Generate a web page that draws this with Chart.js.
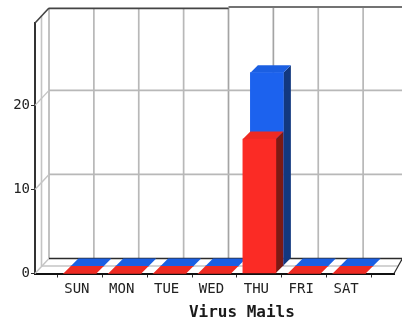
<!DOCTYPE html>
<html><head><meta charset="utf-8">
<style>html,body{margin:0;padding:0;background:#fff}#w{width:402px;height:327px}</style>
<script src="https://cdn.jsdelivr.net/npm/chart.js@4"></script>
</head><body><div id="w"><canvas id="c" width="402" height="327"></canvas></div>
<script>
const categories = ["", "SUN", "MON", "TUE", "WED", "THU", "FRI", "SAT", ""];
const redValues  = [null, 0, 0, 0, 0, 16, 0, 0, null];
const blueValues = [null, 0, 0, 0, 0, 23, 0, 0, null];
const axisTitle = "Virus Mails";

const WALL_DX = 14, WALL_DY = 15, BAR_D = 7.5;
const GRID = "#b8b8b8", DARK = "#2b2b2b", MID = "#c4c4c4";

function line(ctx, x1, y1, x2, y2, color, w) {
  ctx.strokeStyle = color; ctx.lineWidth = w;
  ctx.beginPath(); ctx.moveTo(x1, y1); ctx.lineTo(x2, y2); ctx.stroke();
}
function poly(ctx, pts, color) {
  ctx.fillStyle = color; ctx.beginPath();
  pts.forEach((p, i) => i ? ctx.lineTo(p[0], p[1]) : ctx.moveTo(p[0], p[1]));
  ctx.closePath(); ctx.fill();
}

const walls = {
  id: "walls",
  beforeDatasetsDraw(chart) {
    const { ctx, scales: { x, y }, width } = chart;
    const left = x.left, bottom = y.bottom, top = y.top;
    const backL = left + WALL_DX, backB = bottom - WALL_DY, backT = top - WALL_DY;
    ctx.save();
    x.ticks.forEach((t, i) => {
      const px = x.getPixelForTick(i) + WALL_DX;
      const c = (i >= 4 && i <= 5) ? "#a4a4a4" : GRID;
      line(ctx, px, backT, px, backB, c, 1.7);
    });
    line(ctx, left + WALL_DX / 2 - 0.5, top - WALL_DY / 2, left + WALL_DX / 2 - 0.5, bottom - WALL_DY / 2, MID, 1.6);
    y.ticks.forEach(t => {
      const py = y.getPixelForValue(t.value);
      line(ctx, left, py, backL, py - WALL_DY, MID, 1.4);
      if (t.value !== 0) line(ctx, backL, py - WALL_DY, width, py - WALL_DY, GRID, 1.7);
    });
    line(ctx, left + WALL_DX / 2 - 0.5, bottom - WALL_DY / 2, x.right + 4, bottom - WALL_DY / 2, MID, 1.4);
    line(ctx, backL, backB, width, backB, DARK, 1.5);
    line(ctx, x.right, bottom, x.right + WALL_DX * 0.6, bottom - WALL_DY, DARK, 1.2);
    const step = x.getPixelForTick(4) + WALL_DX;
    line(ctx, backL, backT + 0.3, step, backT + 0.3, "#444", 1.8);
    line(ctx, step, backT - 1, width, backT - 1, "#444", 1.5);
    line(ctx, left, top, backL, backT, "#444", 1.6);
    ctx.restore();
  },
  beforeDatasetDraw(chart, args) {
    const { ctx } = chart;
    const meta = args.meta, ds = chart.data.datasets[args.index];
    ctx.save();
    ctx.translate(ds.shift, -ds.shift);
    meta.data.forEach((el, i) => {
      if (ds.data[i] === null) return;
      const p = el.getProps(["x", "y", "base", "width"], true);
      const l = p.x - p.width / 2, r = p.x + p.width / 2;
      poly(ctx, [[r, p.y], [r + BAR_D, p.y - BAR_D], [r + BAR_D, p.base - BAR_D], [r, p.base]], ds.sideColor);
      poly(ctx, [[l, p.y], [l + BAR_D, p.y - BAR_D], [r + BAR_D, p.y - BAR_D], [r, p.y]], ds.topColor);
    });
  },
  afterDatasetDraw(chart) { chart.ctx.restore(); },
  afterDraw(chart) {
    const { ctx, scales: { x } } = chart;
    ctx.save();
    ctx.font = "bold 16px 'DejaVu Sans Mono', monospace";
    ctx.fillStyle = "#1a1a1a";
    ctx.textAlign = "center"; ctx.textBaseline = "middle";
    ctx.fillText(axisTitle, x.getPixelForTick(5) - 17.5, 313);
    ctx.restore();
  }
};

new Chart(document.getElementById("c"), {
  type: "bar",
  data: {
    labels: categories,
    datasets: [
      { label: "Red", data: redValues, backgroundColor: "#fb2b25", topColor: "#ee2a22", sideColor: "#7c1a14", shift: 0, grouped: false, barThickness: 33, borderWidth: 0, clip: false },
      { label: "Blue", data: blueValues, backgroundColor: "#1c62ee", topColor: "#1b5fe2", sideColor: "#12387f", shift: BAR_D, grouped: false, barThickness: 33, borderWidth: 0, clip: false }
    ]
  },
  options: {
    responsive: false, animation: false,
    layout: { padding: { top: 23, right: 8, left: 0, bottom: 0 } },
    plugins: { legend: { display: false }, tooltip: { enabled: false } },
    scales: {
      x: {
        offset: false,
        grid: { drawOnChartArea: false, drawTicks: true, tickLength: 4, color: DARK, lineWidth: 1 },
        border: { color: "#111", width: 2 },
        ticks: { autoSkip: false, maxRotation: 0, minRotation: 0, labelOffset: -3, padding: 3, color: "#222", font: { family: "'DejaVu Sans Mono', monospace", size: 14 } },
        afterFit(s) { s.height = 53.5; }
      },
      y: {
        min: 0, max: 29.8,
        grid: { drawOnChartArea: false, drawTicks: true, tickLength: 4, color: DARK, lineWidth: 1 },
        border: { color: "#333", width: 2 },
        ticks: { stepSize: 10, includeBounds: false, padding: 1, color: "#222", font: { family: "'DejaVu Sans Mono', monospace", size: 14 } },
        afterFit(s) { s.width = 35; }
      }
    }
  },
  plugins: [walls]
});
</script></body></html>
